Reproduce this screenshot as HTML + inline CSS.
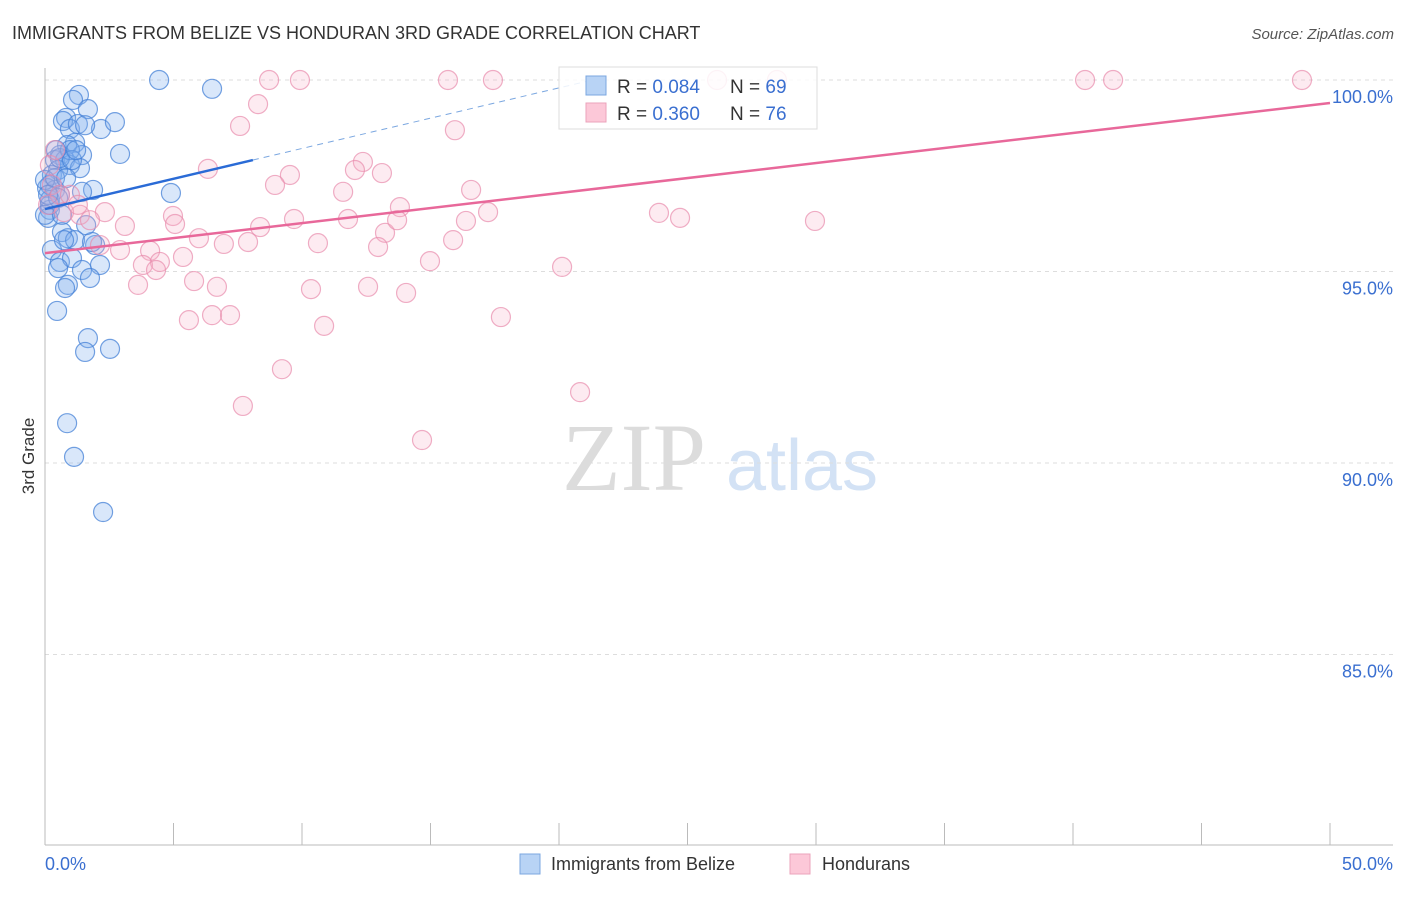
<!DOCTYPE html>
<html><head><meta charset="utf-8"><style>
body{margin:0;background:#fff;font-family:"Liberation Sans",sans-serif}
</style></head><body>
<svg width="1406" height="892" id="chart" font-family="Liberation Sans, sans-serif">
<text x="12" y="39" font-size="18" fill="#333">IMMIGRANTS FROM BELIZE VS HONDURAN 3RD GRADE CORRELATION CHART</text>
<text x="1394" y="39" font-size="15" fill="#555" font-style="italic" text-anchor="end">Source: ZipAtlas.com</text>
<text x="34" y="456" font-size="17" fill="#333" text-anchor="middle" transform="rotate(-90 34 456)">3rd Grade</text>
<g><text x="634" y="490" font-size="96" fill="#dcdcdc" style="font-family:'Liberation Serif',serif" text-anchor="middle">ZIP</text><text x="802" y="490" font-size="72" fill="#d3e2f5" text-anchor="middle">atlas</text></g>
<g id="grid"></g><g id="axes"></g><g id="pts"></g><g id="trends"></g>
<g>
<rect x="559" y="67" width="258" height="62" fill="#fff" fill-opacity="0.85" stroke="#ddd"/>
<rect x="586" y="76" width="20" height="19" fill="#b8d3f5" stroke="#7ba7e0"/>
<rect x="586" y="103" width="20" height="19" fill="#fcc8d8" stroke="#eba3bb"/>
<text x="617" y="93" font-size="19" fill="#333">R = <tspan fill="#3a6fd0">0.084</tspan></text>
<text x="730" y="93" font-size="19" fill="#333">N = <tspan fill="#3a6fd0">69</tspan></text>
<text x="617" y="120" font-size="19" fill="#333">R = <tspan fill="#3a6fd0">0.360</tspan></text>
<text x="730" y="120" font-size="19" fill="#333">N = <tspan fill="#3a6fd0">76</tspan></text>
</g>
<g>
<rect x="520" y="854" width="20" height="20" fill="#b8d3f5" stroke="#7ba7e0"/>
<text x="551" y="870" font-size="18" fill="#333">Immigrants from Belize</text>
<rect x="790" y="854" width="20" height="20" fill="#fcc8d8" stroke="#eba3bb"/>
<text x="822" y="870" font-size="18" fill="#333">Hondurans</text>
</g>
</svg>
<script>
const blueX=[4.44,6.50,1.32,1.09,1.67,0.82,0.70,0.97,2.18,2.72,1.28,1.56,1.17,0.86,1.44,0.58,0.39,0.78,0.97,1.36,2.92,0.27,0.51,0.19,0.08,0.39,0.19,1.87,1.44,0.58,4.90,0.19,0.12,0.66,0.89,1.17,1.95,0.27,0.58,1.05,2.14,0.51,1.44,1.75,0.89,0.78,0.47,1.67,1.56,2.53,0.86,1.13,2.26,0.19,0.00,0.39,0.58,0.82,0.97,0.74,1.83,1.05,0.51,0.12,0.00,1.60,0.66,1.21,0.43];
const blueY=[100.0,99.77,99.61,99.48,99.24,99.01,98.93,98.72,98.72,98.90,98.85,98.82,98.36,98.30,98.04,98.04,97.91,97.91,97.78,97.70,98.07,97.52,97.65,97.26,97.18,97.13,96.87,97.13,97.08,97.00,97.05,96.61,96.40,96.03,95.87,95.82,95.69,95.56,95.25,95.35,95.17,95.09,95.04,94.83,94.65,94.57,93.97,93.26,92.90,92.98,91.04,90.16,88.72,96.74,97.39,97.44,97.96,97.44,98.17,95.82,95.77,97.91,96.92,97.00,96.48,96.21,96.48,98.17,98.17];
const pinkX=[8.72,9.92,15.68,17.43,26.15,28.48,40.47,41.56,48.91,8.29,7.59,15.95,6.34,12.37,12.06,13.11,9.53,8.95,11.60,16.58,13.81,17.24,23.89,24.71,29.96,13.23,11.79,9.69,13.70,16.38,8.37,4.98,5.06,3.11,2.33,1.36,1.75,5.99,6.96,7.90,10.62,12.96,15.88,4.09,5.37,4.47,3.81,4.32,2.92,2.14,5.80,6.69,3.62,10.35,12.57,14.05,14.98,20.12,5.60,6.50,7.20,10.86,17.74,9.22,20.82,7.70,14.67,0.39,0.19,0.27,0.58,0.74,0.97,0.12,1.28];
const pinkY=[100,100,100,100,100,100,100,100,100,99.37,98.80,98.69,97.68,97.86,97.65,97.57,97.52,97.26,97.08,97.13,96.68,96.55,96.53,96.40,96.32,96.01,96.37,96.37,96.34,96.32,96.16,96.45,96.24,96.19,96.55,96.48,96.34,95.87,95.72,95.77,95.74,95.64,95.82,95.54,95.38,95.25,95.17,95.04,95.56,95.69,94.75,94.60,94.65,94.54,94.60,94.44,95.27,95.12,93.73,93.86,93.86,93.58,93.81,92.45,91.85,91.49,90.60,98.17,97.78,97.26,97.00,96.55,97.00,96.74,96.74];
const yTicks=[100,95,90,85];
const yTickLabels=["100.0%","95.0%","90.0%","85.0%"];
const blueTrend=[0,96.63,8.09,97.91,21.3];
const pinkTrend=[0,95.48,50,99.40];
const NS="http://www.w3.org/2000/svg";
const X=v=>45+v/50*1285, Y=v=>80+(100-v)*38.3;
function mk(t,a,p){const e=document.createElementNS(NS,t);for(const k in a)e.setAttribute(k,a[k]);document.getElementById(p).appendChild(e);return e;}
yTicks.forEach((t,i)=>{
 let g=mk('line',{x1:45,x2:1393,y1:Y(t),y2:Y(t),stroke:'#ddd','stroke-dasharray':'4,4'},'grid');
 
 
 let l=mk('text',{x:1393,y:Y(t)+23,'font-size':18,fill:'#3a6fd0','text-anchor':'end'},'grid');
 l.textContent=yTickLabels[i];
 
 
});
let ax=mk('line',{x1:45,x2:1393,y1:845,y2:845,stroke:'#bbb'},'axes');


let ay=mk('line',{x1:45,x2:45,y1:68,y2:845,stroke:'#bbb'},'axes');


for(let i=0;i<=10;i++){let t=mk('line',{x1:X(i*5),x2:X(i*5),y1:823,y2:845,stroke:'#bbb'},'axes');
 
 }
let x0=mk('text',{x:45,y:870,'font-size':18,fill:'#3a6fd0'},'axes');x0.textContent='0.0%';


let x1=mk('text',{x:1393,y:870,'font-size':18,fill:'#3a6fd0','text-anchor':'end'},'axes');x1.textContent='50.0%';


blueX.forEach((v,i)=>{let c=mk('circle',{cx:X(v),cy:Y(blueY[i]),r:9.5,fill:'rgba(130,175,240,0.3)',stroke:'rgba(70,130,215,0.75)','stroke-width':1.2},'pts');
 
 });
pinkX.forEach((v,i)=>{let c=mk('circle',{cx:X(v),cy:Y(pinkY[i]),r:9.5,fill:'rgba(248,175,200,0.25)',stroke:'rgba(232,140,172,0.7)','stroke-width':1.2},'pts');
 
 });
const bs=(blueTrend[3]-blueTrend[1])/(blueTrend[2]-blueTrend[0]);
let b1=mk('line',{x1:X(blueTrend[0]),y1:Y(blueTrend[1]),x2:X(blueTrend[2]),y2:Y(blueTrend[3]),stroke:'#2a6bd6','stroke-width':2.5},'trends');


let b2=mk('line',{x1:X(blueTrend[2]),y1:Y(blueTrend[3]),x2:X(blueTrend[4]),y2:Y(blueTrend[1]+bs*blueTrend[4]),stroke:'#7ba7e0','stroke-width':1,'stroke-dasharray':'6,5'},'trends');


let p1=mk('line',{x1:X(pinkTrend[0]),y1:Y(pinkTrend[1]),x2:X(pinkTrend[2]),y2:Y(pinkTrend[3]),stroke:'#e8689a','stroke-width':2.5},'trends');


</script>
</body></html>
